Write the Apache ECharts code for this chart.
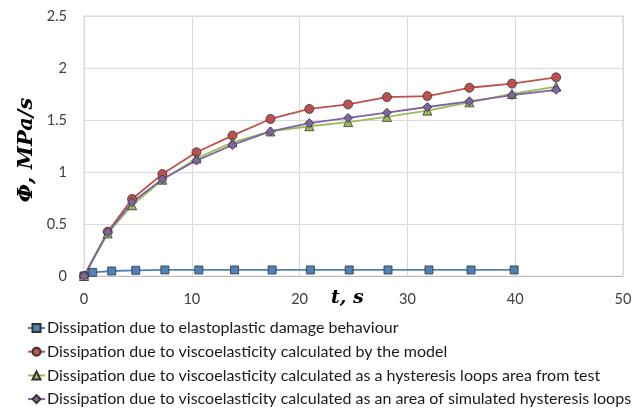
<!DOCTYPE html>
<html>
<head>
<meta charset="utf-8">
<script src="https://cdn.jsdelivr.net/npm/echarts@6/dist/echarts.min.js"></script>
<style>
  html, body { margin: 0; padding: 0; background: #fff; }
  #chart { width: 637px; height: 410px; }
</style>
</head>
<body>
<div id="chart"></div>
<script>
// time points (s)
const tBlue = [0, 0.8, 2.57, 4.8, 7.5, 10.65, 13.96, 17.45, 21.0, 24.6, 28.2, 32.0, 35.9, 39.9];
const tVisco = [0, 2.2, 4.46, 7.27, 10.43, 13.77, 17.3, 20.9, 24.5, 28.1, 31.85, 35.75, 39.7, 43.8];

// dissipation values (MPa/s)
const phiElasto = [0, 0.035, 0.048, 0.055, 0.058, 0.058, 0.058, 0.058, 0.058, 0.058, 0.058, 0.058, 0.058, 0.058];
const phiModel = [0, 0.426, 0.74, 0.98, 1.19, 1.35, 1.51, 1.606, 1.65, 1.72, 1.73, 1.81, 1.85, 1.91];
const phiTest = [0, 0.41, 0.68, 0.926, 1.13, 1.285, 1.39, 1.44, 1.48, 1.53, 1.59, 1.67, 1.75, 1.82];
const phiSim = [0, 0.42, 0.71, 0.93, 1.11, 1.26, 1.39, 1.47, 1.52, 1.57, 1.625, 1.68, 1.74, 1.79];

const names = [
  "Dissipation due to elastoplastic damage behaviour",
  "Dissipation due to viscoelasticity calculated by the model",
  "Dissipation due to viscoelasticity calculated as a hysteresis loops area from test",
  "Dissipation due to viscoelasticity calculated as an area of simulated hysteresis loops",
];

const pairs = (xs, ys) => xs.map((x, i) => [x, ys[i]]);

const mk = (name, data, color, symbol, size) => ({
  name, type: "line", data,
  symbol, symbolSize: size,
  lineStyle: { color, width: 1.8 },
  itemStyle: { color, borderColor: "#333", borderWidth: 0.8 },
  emphasis: { disabled: true },
  animation: false,
});

const chart = echarts.init(document.getElementById("chart"), null, { renderer: "canvas" });
chart.setOption({
  backgroundColor: "#fff",
  animation: false,
  grid: { left: 84, right: 14, top: 16, bottom: 134, show: true, borderColor: "#d9d9d9", borderWidth: 1 },
  xAxis: {
    type: "value", min: 0, max: 50, interval: 10,
    axisLine: { lineStyle: { color: "#bfbfbf" } },
    axisTick: { show: false },
    splitLine: { lineStyle: { color: "#d9d9d9" } },
    axisLabel: { color: "#404040", fontSize: 14.5, fontFamily: "Lato", margin: 16 },
  },
  yAxis: {
    type: "value", min: 0, max: 2.5, interval: 0.5,
    axisLine: { show: false },
    axisTick: { show: false },
    splitLine: { lineStyle: { color: "#d9d9d9" } },
    axisLabel: { color: "#404040", fontSize: 14.5, fontFamily: "Lato", margin: 17 },
  },
  graphic: [
    { type: "text", left: 331, top: 289,
      style: { text: "t, s", font: "bold italic 19px 'DejaVu Serif'", fill: "#000" } },
    { type: "text", x: 27, y: 150, rotation: Math.PI / 2,
      style: { text: "Φ, MPa/s", font: "bold italic 21px 'DejaVu Serif'", fill: "#000",
               align: "center", verticalAlign: "middle" } },
  ],
  legend: {
    orient: "vertical", left: 27, top: 320, padding: 0, height: 90,
    itemGap: 7.7, itemWidth: 17, itemHeight: 10,
    textStyle: { color: "#1a1a1a", fontSize: 16, lineHeight: 16, fontFamily: "Lato", padding: [0, 0, 0, -3] },
    data: names,
  },
  series: [
    mk(names[0], pairs(tBlue, phiElasto), "#4f81bd", "rect", 8),
    mk(names[1], pairs(tVisco, phiModel), "#c0504d", "circle", 9),
    mk(names[2], pairs(tVisco, phiTest), "#9bbb59", "triangle", 9),
    mk(names[3], pairs(tVisco, phiSim), "#8064a2", "diamond", 9),
  ],
});
</script>
</body>
</html>
